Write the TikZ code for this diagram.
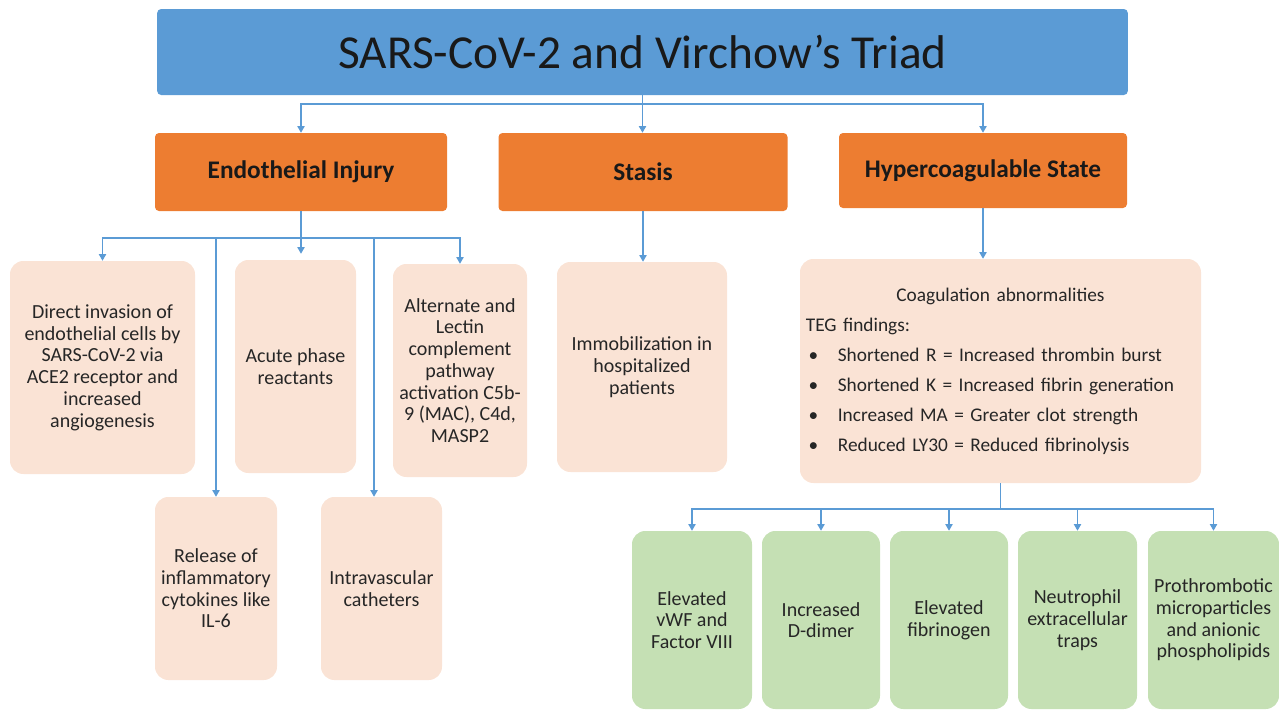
\documentclass[tikz,border=0pt]{standalone}
\usepackage{fontspec}
\setmainfont{Carlito}
\usetikzlibrary{arrows.meta}

\definecolor{titleblue}{HTML}{5B9BD5}
\definecolor{mainorange}{HTML}{ED7D31}
\definecolor{peach}{HTML}{FAE3D5}
\definecolor{leafgreen}{HTML}{C5E0B4}
\definecolor{linkblue}{HTML}{5B9BD5}

\newcommand{\tegline}[1]{\hspace*{2pt}\makebox[22pt][l]{\textbullet}#1}

\begin{document}
\begin{tikzpicture}[%
        x=0.75pt, y=-0.75pt,
        every node/.style={
            font=\fontsize{15}{16.3}\selectfont,
            text=black!85,
            align=center,
        },
        titlebox/.style={fill=titleblue, rounded corners=3pt, text=black!90, font=\fontsize{35.5}{40}\selectfont},
        mainbox/.style={fill=mainorange, rounded corners=3pt, text=black!90, font=\fontsize{19}{22}\selectfont\bfseries},
        causebox/.style={fill=peach, rounded corners=10pt},
        findbox/.style={fill=leafgreen, rounded corners=10pt, minimum height=133.5pt},
        link/.style={draw=linkblue, line width=0.9pt},
        arr/.style={link, -{Triangle[width=5.5pt,length=5pt]}},
    ]
    \useasboundingbox (0,0) rectangle (1279,711);

    \node[titlebox, minimum width=728pt, minimum height=64.5pt] (title) at (642.5,52) {SARS-CoV-2 and Virchow's Triad};

    \node[mainbox, minimum width=219pt, minimum height=58.5pt] (endo) at (301,172) {Endothelial Injury};
    \node[mainbox, minimum width=216.75pt, minimum height=58.5pt] (stasis) at (643,172) {Stasis};
    \node[mainbox, minimum width=216pt, minimum height=56.25pt] (hyper) at (983,170.5) {Hypercoagulable State};

    % endothelial injury
    \node[causebox, minimum width=138.75pt, minimum height=159.75pt] (direct) at (102.5,367.5)
        {Direct invasion of\\endothelial cells by\\SARS-CoV-2 via\\ACE2 receptor and\\increased\\angiogenesis};
    \node[causebox, minimum width=90.75pt, minimum height=159.75pt] (acute) at (295.5,366.5)
        {Acute phase\\reactants};
    \node[causebox, minimum width=100.5pt, minimum height=159.75pt] (alternate) at (460,370.5)
        {Alternate and\\Lectin\\complement\\pathway\\activation C5b-\\9 (MAC), C4d,\\MASP2};
    \node[causebox, minimum width=91.5pt, minimum height=137.25pt] (release) at (216,588.5)
        {Release of\\inflammatory\\cytokines like\\IL-6};
    \node[causebox, minimum width=90.75pt, minimum height=137.25pt] (intra) at (381.5,588.5)
        {Intravascular\\catheters};

    % stasis
    \node[causebox, minimum width=127.5pt, minimum height=157.5pt] (immob) at (642,367)
        {Immobilization in\\hospitalized\\patients};

    % hypercoagulable state
    \node[causebox, minimum width=300.75pt, minimum height=168pt, text width=292pt, align=left,
        font=\fontsize{14.5}{22.5}\selectfont] (coag) at (1000.5,371)
        {\makebox[292pt]{Coagulation abnormalities}\\
         TEG findings:\\
         \tegline{Shortened R = Increased thrombin burst}\\
         \tegline{Shortened K = Increased fibrin generation}\\
         \tegline{Increased MA = Greater clot strength}\\
         \tegline{Reduced LY30 = Reduced fibrinolysis}};

    \node[findbox, minimum width=90pt] (vwf) at (692,620) {Elevated\\vWF and\\Factor VIII};
    \node[findbox, minimum width=88.5pt] (ddimer) at (821,620) {Increased\\D-dimer};
    \node[findbox, minimum width=88.5pt] (fibrinogen) at (949,620) {Elevated\\fibrinogen};
    \node[findbox, minimum width=89.25pt] (nets) at (1077.5,620) {Neutrophil\\extracellular\\traps};
    \node[findbox, minimum width=98.25pt] (micro) at (1213.5,620) {Prothrombotic\\microparticles\\and anionic\\phospholipids};

    % connectors
    \coordinate (tj) at (642.5,104);
    \draw[link] (title.south) -- (tj);
    \draw[arr] (tj) -| (endo.north);
    \draw[arr] (tj) -- (tj |- stasis.north);
    \draw[arr] (tj) -| (hyper.north);

    \coordinate (ej) at (301,238);
    \draw[link] (endo.south) -- (ej);
    \draw[arr] (ej) -| (direct.north);
    \draw[arr] (ej) -- ([yshift=4.5pt]ej |- acute.north);
    \draw[arr] (ej) -| (alternate.north);
    \draw[arr] (release.north |- ej) -- (release.north);
    \draw[arr] ([xshift=-5.6pt]intra.north |- ej) -- ([xshift=-5.6pt]intra.north);

    \draw[arr] (stasis.south) -- (stasis.south |- immob.north);
    \draw[arr] (hyper.south) -- (hyper.south |- coag.north);

    \coordinate (cj) at (1000.5,509);
    \draw[link] (coag.south) -- (cj);
    \foreach \leaf in {vwf,ddimer,fibrinogen,nets,micro}
        \draw[arr] (cj) -| (\leaf.north);
\end{tikzpicture}
\end{document}
